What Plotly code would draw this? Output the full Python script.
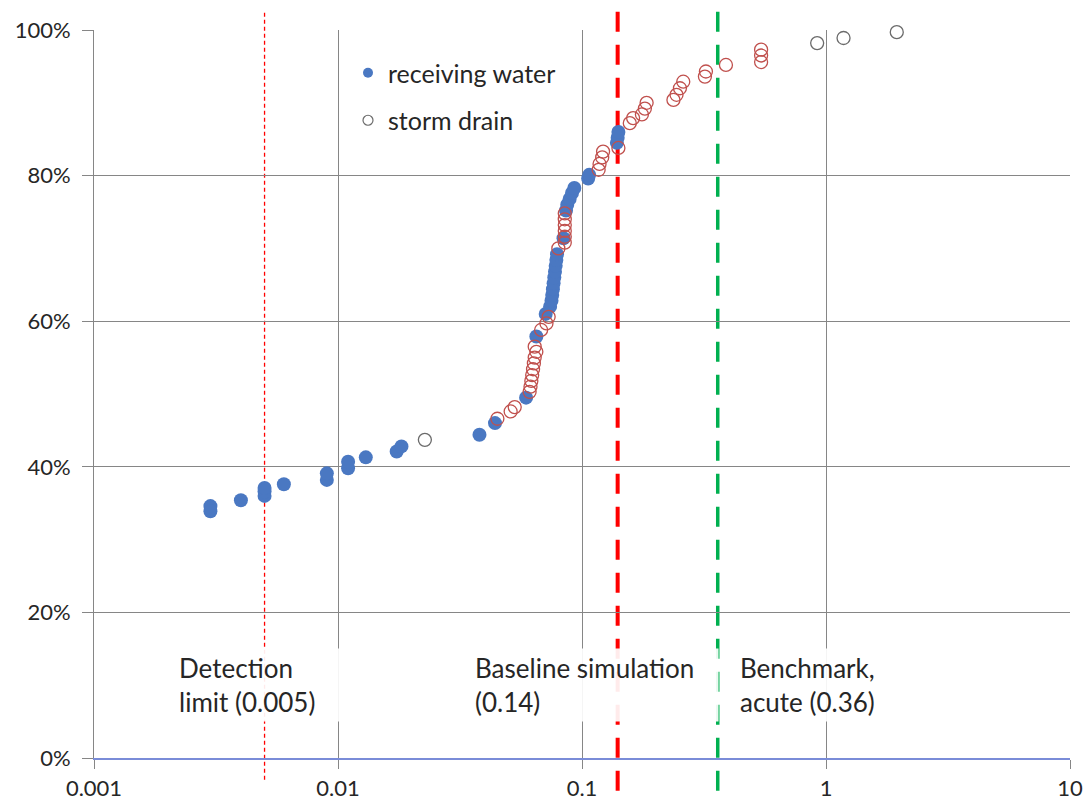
import plotly.graph_objects as go
import math

# ---- data ----
recv_x = [0.003, 0.003, 0.004, 0.005, 0.005, 0.005, 0.006, 0.009, 0.009, 0.011, 0.011, 0.013,
          0.0174, 0.0182, 0.038, 0.044, 0.059, 0.065, 0.071,
          0.074, 0.075, 0.0755, 0.076, 0.0765, 0.077, 0.0775, 0.078, 0.0785, 0.079,
          0.084, 0.086, 0.087, 0.089, 0.091, 0.093, 0.106, 0.107, 0.139, 0.140, 0.141]
recv_y = [34.6, 33.9, 35.4, 36.0, 36.6, 37.1, 37.6, 38.2, 39.1, 39.8, 40.7, 41.3,
          42.1, 42.8, 44.4, 46.0, 49.5, 57.9, 61.0,
          62.0, 62.8, 63.6, 64.4, 65.2, 66.0, 66.8, 67.6, 68.4, 69.2,
          71.4, 75.2, 76.0, 76.8, 77.6, 78.3, 79.6, 80.1, 84.5, 85.2, 86.0]

drain_red_x = [0.045, 0.051, 0.053,
               0.061, 0.0615, 0.062, 0.0625, 0.063, 0.0635, 0.064, 0.065, 0.064,
               0.068, 0.0715, 0.073, 0.080,
               0.085, 0.085, 0.085, 0.085, 0.085, 0.085,
               0.117, 0.118, 0.121, 0.122, 0.141,
               0.157, 0.162, 0.176, 0.181, 0.184,
               0.237, 0.244, 0.252, 0.260, 0.319, 0.322, 0.389,
               0.542, 0.542, 0.542]
drain_red_y = [46.6, 47.6, 48.2,
               50.3, 51.0, 51.8, 52.6, 53.4, 54.2, 55.0, 55.8, 56.5,
               58.8, 59.7, 60.6, 70.0,
               70.8, 71.6, 72.4, 73.2, 74.0, 74.8,
               80.8, 81.6, 82.5, 83.3, 83.8,
               87.2, 87.9, 88.4, 89.2, 90.0,
               90.4, 91.1, 92.0, 92.9, 93.6, 94.3, 95.2,
               95.6, 96.5, 97.3]

drain_gray_x = [0.0227, 0.92, 1.18, 1.95]
drain_gray_y = [43.7, 98.2, 98.9, 99.7]

x_ticks = [0.001, 0.01, 0.1, 1, 10]
x_tick_text = ["0.001", "0.01", "0.1", "1", "10"]
y_ticks = [0, 20, 40, 60, 80, 100]
y_tick_text = ["0%", "20%", "40%", "60%", "80%", "100%"]

ref_lines = [0.005, 0.14, 0.36]
ref_labels = ["Detection<br>limit (0.005)", "Baseline simulation<br>(0.14)", "Benchmark,<br>acute (0.36)"]

FONT = "Lato"
BLUE = "#4A78C2"
RED_OUT = "#C0504D"
GRAY_OUT = "#6b6b6b"
TXT = "#262626"

fig = go.Figure()

fig.add_trace(go.Scatter(x=recv_x, y=recv_y, mode="markers", name="receiving water",
                         showlegend=False, cliponaxis=False,
                         marker=dict(size=14, color=BLUE, line=dict(width=0))))
fig.add_trace(go.Scatter(x=drain_red_x, y=drain_red_y, mode="markers", name="storm drain",
                         showlegend=False, cliponaxis=False,
                         marker=dict(size=13, color="rgba(0,0,0,0)",
                                     line=dict(width=1.3, color=RED_OUT))))
fig.add_trace(go.Scatter(x=drain_gray_x, y=drain_gray_y, mode="markers", name="storm drain",
                         showlegend=False, cliponaxis=False,
                         marker=dict(size=13, color="rgba(0,0,0,0)",
                                     line=dict(width=1.3, color=GRAY_OUT))))
# legend entries
fig.add_trace(go.Scatter(x=[None], y=[None], mode="markers", name="receiving water",
                         legendgroup="a",
                         marker=dict(size=10, color=BLUE, line=dict(width=0))))
fig.add_trace(go.Scatter(x=[None], y=[None], mode="markers", name="storm drain",
                         legendgroup="b",
                         marker=dict(size=10, color="rgba(0,0,0,0)",
                                     line=dict(width=1.2, color=GRAY_OUT))))


def px_paper(v):
    return (math.log10(v) + 3) / 4.0


shapes = [
    dict(type="line", xref="paper", yref="paper",
         x0=px_paper(ref_lines[0]), x1=px_paper(ref_lines[0]), y0=-0.03, y1=1.027,
         line=dict(color="#FF0000", width=1.3, dash="4px,3px"), layer="between"),
    dict(type="line", xref="paper", yref="paper",
         x0=px_paper(ref_lines[1]), x1=px_paper(ref_lines[1]), y0=-0.045, y1=1.027,
         line=dict(color="#FF0000", width=4, dash="20px,13px"), layer="between"),
    dict(type="line", xref="paper", yref="paper",
         x0=px_paper(ref_lines[2]), x1=px_paper(ref_lines[2]), y0=-0.045, y1=1.027,
         line=dict(color="#00B050", width=3.5, dash="20px,13px"), layer="between"),
]

ann_x_px = [175, 471, 736]
ann_w = [172, 240, 160]
annotations = []
for lab, xp, w in zip(ref_labels, ann_x_px, ann_w):
    annotations.append(dict(xref="paper", yref="paper", x=(xp - 94) / 976.0, y=(758 - 648) / 728.0,
                            xanchor="left", yanchor="top", align="left", showarrow=False,
                            text=lab, width=w, bgcolor="rgba(255,255,255,0.92)", borderpad=3,
                            font=dict(family=FONT, size=26, color=TXT)))

fig.update_layout(
    width=1090, height=805,
    margin=dict(l=94, r=20, t=30, b=47),
    paper_bgcolor="white", plot_bgcolor="white",
    font=dict(family=FONT, size=22, color=TXT),
    shapes=shapes, annotations=annotations,
    legend=dict(x=(348 - 94) / 976.0, y=(758 - 50) / 728.0, xanchor="left", yanchor="top",
                bgcolor="rgba(0,0,0,0)", font=dict(family=FONT, size=25, color=TXT),
                tracegroupgap=12, itemsizing="trace"),
    xaxis=dict(type="log", range=[-3, 1], tickvals=x_ticks, ticktext=x_tick_text,
               showgrid=True, gridcolor="#868686", gridwidth=1,
               showline=True, linecolor="#7A8CD8", linewidth=2,
               ticks="outside", ticklen=9, tickcolor="#868686", ticklabelstandoff=1,
               automargin=False,
               tickfont=dict(family=FONT, size=22, color=TXT), zeroline=False),
    yaxis=dict(range=[0, 100], tickvals=y_ticks, ticktext=y_tick_text,
               showgrid=True, gridcolor="#868686", gridwidth=1,
               showline=True, linecolor="#868686", linewidth=1,
               ticks="outside", ticklen=11, tickcolor="#868686", ticklabelstandoff=7,
               automargin=False,
               tickfont=dict(family=FONT, size=22, color=TXT), zeroline=False),
)

fig.write_html("out.html")
